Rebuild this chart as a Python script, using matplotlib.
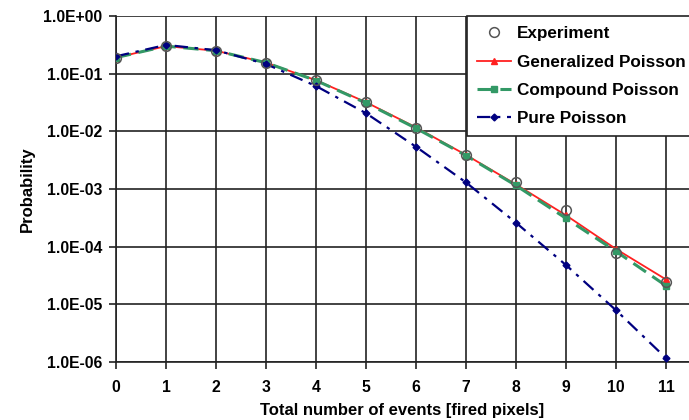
import matplotlib
matplotlib.use("Agg")
import matplotlib.pyplot as plt
from matplotlib.ticker import FixedLocator, FuncFormatter

plt.rcParams['font.family'] = ['Liberation Sans', 'DejaVu Sans']
plt.rcParams['font.weight'] = 'bold'

# values (log scale)
n_events = [0, 1, 2, 3, 4, 5, 6, 7, 8, 9, 10, 11]
experiment = [0.19, 0.30, 0.25, 0.155, 0.078, 0.032, 0.0116, 0.0039, 0.0013, 4.4e-4, 7.7e-5, 2.4e-5]
generalized = [0.19, 0.30, 0.25, 0.155, 0.077, 0.032, 0.0117, 0.0039, 0.0012, 3.5e-4, 9.1e-5, 2.7e-5]
compound = [0.19, 0.30, 0.25, 0.155, 0.076, 0.031, 0.0113, 0.0038, 0.00115, 3.1e-4, 8.3e-5, 2.1e-5]
pure = [0.20, 0.315, 0.255, 0.147, 0.061, 0.0206, 0.0054, 0.0013, 2.6e-4, 4.8e-5, 7.9e-6, 1.17e-6]

y_ticks = [1e0, 1e-1, 1e-2, 1e-3, 1e-4, 1e-5, 1e-6]

fig = plt.figure(figsize=(6.89, 4.20), dpi=100)
ax = fig.add_axes([116 / 689, 58 / 420, 1 - 116 / 689, 346 / 420])

ax.plot(n_events, generalized, color='#ff2020', linestyle='-', linewidth=1.3,
        marker='^', markersize=4, label='Generalized Poisson', zorder=3)
ax.plot(n_events, compound, color='#339966', linestyle=(0, (5, 2.5)), linewidth=2.2,
        marker='s', markersize=5, label='Compound Poisson', zorder=3)
ax.plot(n_events, pure, color='#000080', linestyle=(0, (6, 3, 1.5, 3)), linewidth=1.6,
        marker='D', markersize=3.5, label='Pure Poisson', zorder=4)
ax.plot(n_events, experiment, linestyle='none', marker='o', markersize=7,
        markerfacecolor='none', markeredgecolor='#555555', markeredgewidth=1.1,
        label='Experiment', zorder=5)

ax.set_yscale('log')
ax.set_ylim(1e-6, 1)
ax.set_xlim(0, 11.46)
ax.yaxis.set_major_locator(FixedLocator(y_ticks))
ax.yaxis.set_minor_locator(FixedLocator([]))
ax.yaxis.set_major_formatter(FuncFormatter(lambda v, p: '{:.1E}'.format(v)))
ax.set_xticks(n_events)

ax.grid(True, color='#222222', linewidth=1.2)
ax.set_axisbelow(True)
for side in ['top', 'right']:
    ax.spines[side].set_visible(False)
for side in ['left', 'bottom']:
    ax.spines[side].set_color('#222222')
    ax.spines[side].set_linewidth(1.2)
ax.tick_params(axis='both', direction='out', length=5, width=1.2, color='#222222',
               labelsize=11.3)
ax.tick_params(axis='x', pad=8)
ax.tick_params(axis='y', pad=5)
for lbl in ax.get_xticklabels() + ax.get_yticklabels():
    lbl.set_fontweight('bold')

ax.set_xlabel('Total number of events [fired pixels]', fontsize=12, fontweight='bold', labelpad=6)
ax.set_ylabel('Probability', fontsize=12, fontweight='bold', labelpad=6)

# legend order as in the reference: Experiment first
handles, labels = ax.get_legend_handles_labels()
order = [3, 0, 1, 2]
leg = ax.legend([handles[i] for i in order], [labels[i] for i in order],
                loc='upper left', bbox_to_anchor=(351 / 573, 1.0),
                frameon=True, fancybox=False, framealpha=1, edgecolor='#222222',
                prop={'weight': 'bold', 'size': 12.3}, handlelength=2.0,
                labelspacing=0.78, borderpad=0.6, handletextpad=0.3, borderaxespad=0)
leg.get_frame().set_linewidth(1.2)

fig.savefig('out.png', dpi=100)
